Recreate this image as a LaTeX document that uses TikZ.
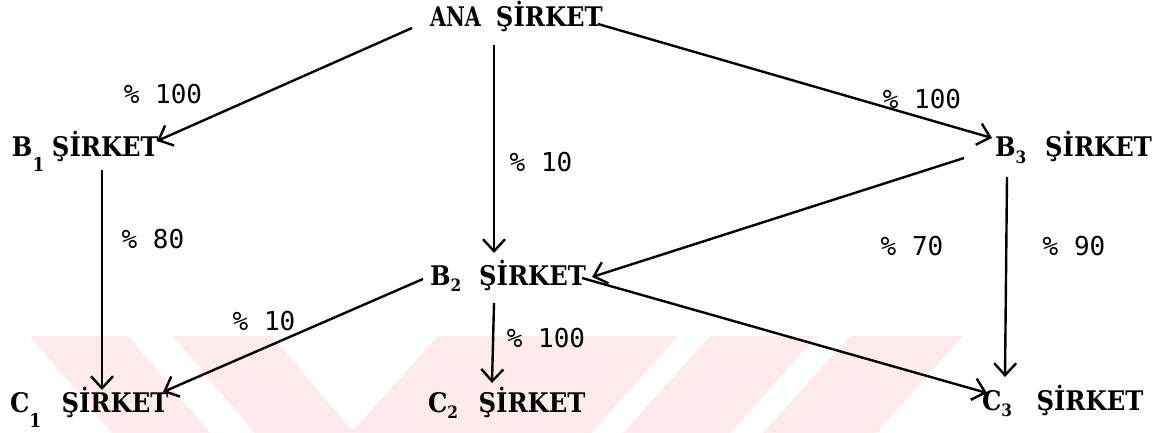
\documentclass[tikz,border=0pt]{standalone}
\usepackage{fontspec}
\setmainfont{DejaVu Serif}
\newfontfamily\pctfont{DejaVu Sans Mono}
\usetikzlibrary{arrows.meta,calc}
\definecolor{wm}{RGB}{252,234,238}
\newcommand\firmlow[3]{\scalebox{0.9}[1]{#1\raisebox{-15pt}{\fontsize{19}{19}\selectfont #2}\hspace{#3}ŞİRKET}}
\newcommand\firmsub[3]{\scalebox{0.9}[1]{#1\raisebox{-6pt}{\fontsize{17}{17}\selectfont #2}\hspace{#3}ŞİRKET}}
\tikzset{
  firm/.style={anchor=base west, inner sep=0pt, outer sep=0pt, font=\fontsize{27}{27}\selectfont\bfseries},
  pct/.style={inner sep=0pt, font=\pctfont\fontsize{26}{26}\selectfont},
  link/.style={line width=2.4pt, -{Straight Barb[length=12pt,width=22pt,line width=2.4pt]}},
}
\begin{document}
\begin{tikzpicture}[x=1pt,y=-1pt]
\useasboundingbox (0,0) rectangle (1156,433);
% watermark
\fill[wm] (30,336) -- (128,336) -- (210,433) -- (112,433) -- cycle;
\fill[wm] (173,336) -- (272,336) -- (354,433) -- (255,433) -- cycle;
\fill[wm] (438,336) -- (678,336) -- (591,433) -- (351,433) -- cycle;
\fill[wm] (710,336) -- (817,336) -- (730,433) -- (623,433) -- cycle;
\fill[wm] (850,336) -- (963,336) -- (876,433) -- (763,433) -- cycle;
% companies
\node[firm] (ana) at (430,27) {\scalebox{0.9}[1]{\scalebox{0.85}[1]{ANA}\hspace{16.7pt}ŞİRKET}};
\node[firm] (b1) at (12,157) {\firmlow{B}{1}{8.4pt}};
\node[firm] (b2) at (430,285) {\firmsub{B}{2}{19.9pt}};
\node[firm] (b3) at (995,157) {\firmsub{B}{3}{21pt}};
\node[firm] (c1) at (10,412) {\firmlow{C}{1}{22.6pt}};
\node[firm] (c2) at (428,412) {\firmsub{C}{2}{22.9pt}};
\node[firm] (c3) at (982,410) {\firmsub{C}{3}{27.3pt}};
% percentages
\node[pct] (p1) at (163,94) {\% 100};
\node[pct] (p2) at (541,162) {\% 10};
\node[pct] (p3) at (922,99) {\% 100};
\node[pct] (p4) at (153,239) {\% 80};
\node[pct] (p5) at (264,321) {\% 10};
\node[pct] (p6) at (546,338) {\% 100};
\node[pct] (p7) at (912,246) {\% 70};
\node[pct] (p8) at (1074,246) {\% 90};
% links
\draw[link] ($(ana.base west)+(-18,1)$) -- ($(b1.base west)+(145,-16)$);
\draw[link] ($(ana.base west)+(64,18)$) -- ($(b2.base west)+(64,-32)$);
\draw[link] ($(ana.base west)+(168,-3)$) -- ($(b3.base west)+(-3,-19)$);
\draw[link] ($(b1.base west)+(90,13)$) -- ($(c1.base west)+(92,-22)$);
\draw[link] ($(b2.base west)+(-7,-6)$) -- ($(c1.base west)+(153,-20)$);
\draw[link] ($(b2.base west)+(64,18)$) -- ($(c2.base west)+(64,-29)$);
\draw[link] ($(b2.base west)+(152,-7)$) -- ($(c3.base west)+(5,-17)$);
\draw[link] ($(b3.base west)+(-31,1)$) -- ($(b2.base west)+(162,-8)$);
\draw[link] ($(b3.base west)+(12,20)$) -- ($(c3.base west)+(23,-33)$);
\end{tikzpicture}
\end{document}
